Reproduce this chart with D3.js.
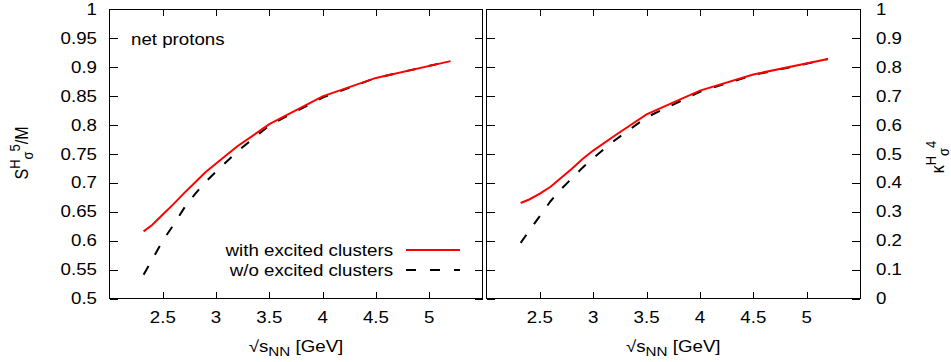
<!DOCTYPE html>
<html><head><meta charset="utf-8">
<script src="https://cdn.jsdelivr.net/npm/d3@7"></script>
<style>body{margin:0;background:#fff}svg{display:block}text{font-family:"Liberation Sans",Arial,sans-serif;fill:#000}</style>
</head><body><svg id="c" width="951" height="362"></svg>
<script>
// ---- data ----
const energies = [2.32, 2.4, 2.5, 2.6, 2.7, 2.8, 2.9, 3.0, 3.2, 3.5, 4.0, 4.5, 5.2];
const skewWith    = [0.616, 0.627, 0.645, 0.663, 0.682, 0.700, 0.718, 0.733, 0.763, 0.801, 0.849, 0.881, 0.910];
const skewWithout = [0.541, 0.567, 0.600, 0.627, 0.656, 0.680, 0.701, 0.719, 0.754, 0.799, 0.847, 0.881, 0.910];
const kurtWith    = [0.330, 0.342, 0.362, 0.386, 0.417, 0.448, 0.482, 0.511, 0.562, 0.636, 0.718, 0.774, 0.827];
const kurtWithout = [0.192, 0.234, 0.285, 0.336, 0.378, 0.415, 0.452, 0.485, 0.546, 0.626, 0.714, 0.772, 0.827];
const xTicks = [2.5, 3, 3.5, 4, 4.5, 5];
const xTickLabels = ["2.5", "3", "3.5", "4", "4.5", "5"];
const leftYTicks = [0.5, 0.55, 0.6, 0.65, 0.7, 0.75, 0.8, 0.85, 0.9, 0.95, 1];
const leftYTickLabels = ["0.5", "0.55", "0.6", "0.65", "0.7", "0.75", "0.8", "0.85", "0.9", "0.95", "1"];
const rightYTicks = [0, 0.1, 0.2, 0.3, 0.4, 0.5, 0.6, 0.7, 0.8, 0.9, 1];
const rightYTickLabels = ["0", "0.1", "0.2", "0.3", "0.4", "0.5", "0.6", "0.7", "0.8", "0.9", "1"];
const seriesNames = ["with excited clusters", "w/o excited clusters"];

// ---- layout ----
const SX = 1.17, FS = 16;
const DASH = "10,13";
const svg = d3.select("#c");
const yTop = 9, yBot = 298.5;
const L = {x0: 109.5, x1: 482.5}, R = {x0: 486.5, x1: 860};
const xL = d3.scaleLinear().domain([2, 5.5]).range([L.x0, L.x1]);
const xR = d3.scaleLinear().domain([2, 5.5]).range([R.x0, R.x1]);
const yL = d3.scaleLinear().domain([0.5, 1]).range([yBot, yTop]);
const yR = d3.scaleLinear().domain([0, 1]).range([yBot, yTop]);

function txt(x, y, anchor, str, opts) {
  opts = opts || {};
  const t = svg.append("text")
    .attr("transform", opts.rot ? `translate(${x},${y}) rotate(-90) scale(1,${SX})` : `translate(${x},${y}) scale(${SX},1)`)
    .attr("text-anchor", anchor).attr("font-size", FS);
  if (opts.dy) t.attr("dy", opts.dy);
  if (str !== null) t.text(str);
  return t;
}

function panel(x, y, yTicks) {
  const g = svg.append("g").attr("shape-rendering", "crispEdges");
  const [x0, x1] = x.range();
  g.append("rect").attr("x", x0).attr("y", yTop).attr("width", x1 - x0).attr("height", yBot - yTop)
    .attr("fill", "none").attr("stroke", "#000").attr("stroke-width", 1);
  xTicks.forEach(v => {
    const px = Math.round(x(v)) + 0.5;
    g.append("line").attr("x1", px).attr("x2", px).attr("y1", yBot).attr("y2", yBot - 7).attr("stroke", "#000");
    g.append("line").attr("x1", px).attr("x2", px).attr("y1", yTop).attr("y2", yTop + 7).attr("stroke", "#000");
  });
  yTicks.forEach(v => {
    const py = Math.round(y(v)) + 0.5;
    g.append("line").attr("x1", x0).attr("x2", x0 + 8).attr("y1", py).attr("y2", py).attr("stroke", "#000");
    g.append("line").attr("x1", x1).attr("x2", x1 - 8).attr("y1", py).attr("y2", py).attr("stroke", "#000");
  });
  xTicks.forEach((v, i) => txt(x(v), 323, "middle", xTickLabels[i]));
  const t = txt((x0 + x1) / 2, 352, "middle", null);
  t.append("tspan").text("\u221As");
  t.append("tspan").attr("baseline-shift", "-25%").attr("font-size", 13).text("NN");
  t.append("tspan").attr("baseline-shift", "0%").text(" [GeV]");
}

function curves(x, y, withVals, withoutVals) {
  const line = d3.line().x((d, i) => x(energies[i])).y(d => y(d));
  svg.append("path").datum(withoutVals).attr("d", line).attr("fill", "none")
    .attr("stroke", "#000").attr("stroke-width", 2).attr("stroke-dasharray", DASH);
  svg.append("path").datum(withVals).attr("d", line).attr("fill", "none")
    .attr("stroke", "#ff0000").attr("stroke-width", 2);
}

panel(xL, yL, leftYTicks);
panel(xR, yR, rightYTicks);
curves(xL, yL, skewWith, skewWithout);
curves(xR, yR, kurtWith, kurtWithout);

leftYTicks.forEach((v, i) => txt(97, yL(v), "end", leftYTickLabels[i], {dy: "0.36em"}));
rightYTicks.forEach((v, i) => txt(876, yR(v), "start", rightYTickLabels[i], {dy: "0.36em"}));

{
  const t = txt(28, 153, "middle", null, {rot: true});
  t.append("tspan").text("S");
  t.append("tspan").attr("dy", -7).attr("font-size", 13).text("H");
  t.append("tspan").attr("dy", 11).attr("font-size", 13).text("\u03C3");
  t.append("tspan").attr("dy", -11).attr("font-size", 13).text("5");
  t.append("tspan").attr("dy", 7).text("/M");
}
{
  const t = txt(944, 157, "middle", null, {rot: true});
  t.append("tspan").text("\u03BA");
  t.append("tspan").attr("dy", -7).attr("font-size", 13).text("H");
  t.append("tspan").attr("dy", 11).attr("font-size", 13).text("\u03C3");
  t.append("tspan").attr("dy", -11).attr("font-size", 13).text("4");
}

txt(131, 45, "start", "net protons");

const legY = [250, 270];
txt(393, legY[0] + 5.5, "end", seriesNames[0]);
txt(393, legY[1] + 5.5, "end", seriesNames[1]);
svg.append("line").attr("x1", 406).attr("x2", 460).attr("y1", legY[0]).attr("y2", legY[0])
  .attr("stroke", "#ff0000").attr("stroke-width", 2);
svg.append("line").attr("x1", 406).attr("x2", 460).attr("y1", legY[1]).attr("y2", legY[1])
  .attr("stroke", "#000").attr("stroke-width", 2).attr("stroke-dasharray", "10,14");
</script></body></html>
